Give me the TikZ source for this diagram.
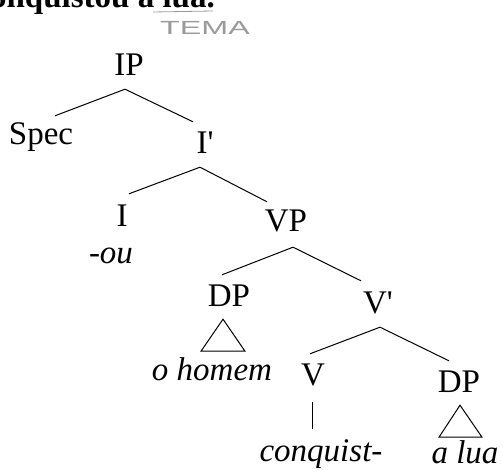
\documentclass[tikz,border=0pt]{standalone}
\usepackage{fontspec}
\setmainfont{Liberation Serif}
\setsansfont{Liberation Sans}
\definecolor{crayon}{HTML}{9A9A9A}
\tikzset{
  categorie/.style={font=\fontsize{33}{40}\selectfont, inner sep=0pt,
    text height=22pt, text depth=0pt, anchor=base},
  feuille/.style={categorie, font=\fontsize{33}{40}\selectfont\itshape},
  branche/.style={line width=1pt, color=black},
  note/.style={font=\sffamily\fontsize{19}{22}\selectfont, color=crayon,
    inner sep=0pt, anchor=base},
}
\begin{document}
\begin{tikzpicture}[x=1pt, y=-1pt]
    \useasboundingbox (0,0) rectangle (503,470);
    % phrase coupee par le bord du scan
    \begin{scope}
      \clip (0,0) rectangle (503,470);
      \node[categorie, font=\fontsize{33}{40}\selectfont\bfseries, anchor=base east]
        (phrase) at (215,8) {O homem conquistou a lua.};
    \end{scope}
    \draw[crayon, line width=0.8pt] (153,12) -- (213,11);
    \node[note] (tema) at (205,35) {\scalebox{1.7}[1]{TEMA}};

    \node[categorie] (ip) at (129,76) {IP};
    \node[categorie] (spec) at (41,145) {Spec};
    \node[categorie] (ibar) at (205,154) {I\textquotesingle};
    \node[categorie] (i) at (122,227) {I};
    \node[feuille] (ou) at (111,264) {-ou};
    \node[categorie] (vp) at (286,232) {VP};
    \node[categorie] (dp) at (229,306) {DP};
    \node[feuille] (homem) at (212,380) {o homem};
    \node[categorie] (vbar) at (378,313) {V\textquotesingle};
    \node[categorie] (v) at (313,385) {V};
    \node[feuille] (conquist) at (321,461) {conquist-};
    \node[categorie] (dpobj) at (459,392) {DP};
    \node[feuille] (lua) at (465,463) {a lua};

    \draw[branche] ([xshift=-4pt,yshift=-13pt]ip.south) -- ([xshift=14pt,yshift=7pt]spec.north);
    \draw[branche] ([xshift=-4pt,yshift=-13pt]ip.south) -- ([xshift=-12pt,yshift=10pt]ibar.north);
    \draw[branche] ([xshift=-5pt,yshift=-13pt]ibar.south) -- ([xshift=7pt,yshift=11pt]i.north);
    \draw[branche] ([xshift=-5pt,yshift=-13pt]ibar.south) -- ([xshift=-19pt,yshift=8pt]vp.north);
    \draw[branche] ([xshift=7pt,yshift=-15pt]vp.south) -- ([xshift=-7pt,yshift=9pt]dp.north);
    \draw[branche] ([xshift=7pt,yshift=-15pt]vp.south) -- ([xshift=-17pt,yshift=10pt]vbar.north);
    \draw[branche] ([xshift=2pt,yshift=-14pt]vbar.south) -- ([xshift=-3pt,yshift=9pt]v.north);
    \draw[branche] ([xshift=2pt,yshift=-14pt]vbar.south) -- ([xshift=-10pt,yshift=9pt]dpobj.north);
    \draw[branche] ([xshift=-1pt,yshift=-17pt]v.south) -- ([xshift=-9pt,yshift=10pt]conquist.north);

    \draw[branche] ([xshift=-6pt,yshift=-13pt]dp.south) -- ++(-22,32) -- ++(44,0) -- cycle;
    \draw[branche] ([xshift=1pt,yshift=-13pt]dpobj.south) -- ++(-21,32) -- ++(43,0) -- cycle;
  \end{tikzpicture}
\end{document}
